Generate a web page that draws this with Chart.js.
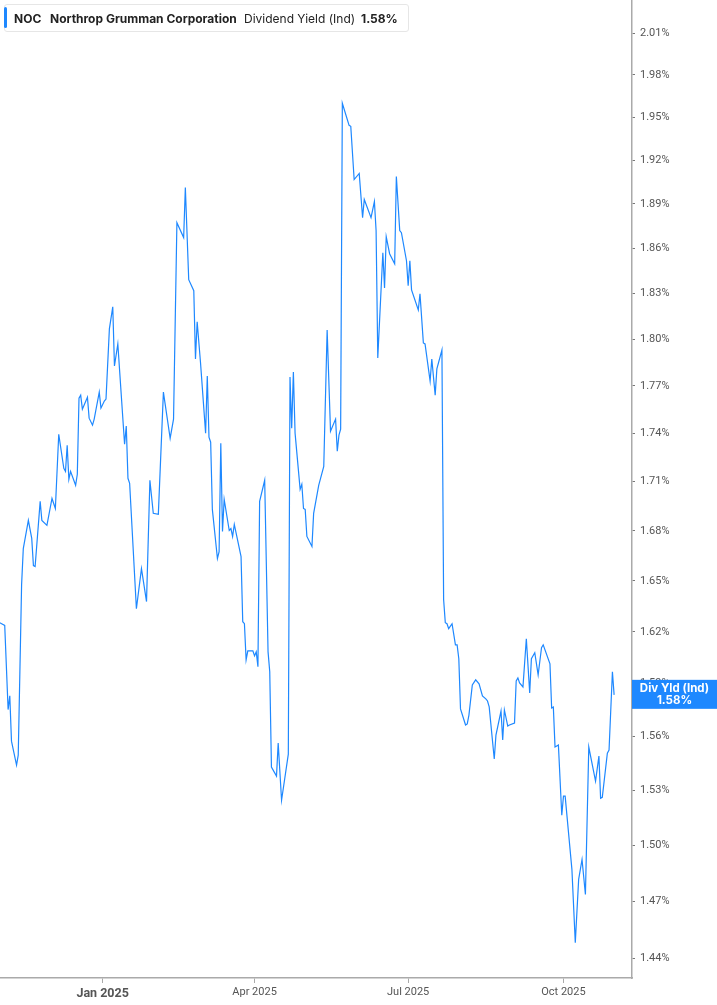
<!DOCTYPE html>
<html>
<head>
<meta charset="utf-8">
<script src="https://cdn.jsdelivr.net/npm/chart.js@4/dist/chart.umd.min.js"></script>
<style>
body { margin:0; background:#fff; }
#wrap { position:relative; width:717px; height:1005px; }
#header {
  position:absolute; left:4px; top:4px; width:403px; height:26px;
  border:1px solid #e6e6e6; border-radius:3px; background:#fff;
  font-family:Inter, "Noto Sans", sans-serif; font-size:12px; color:#222;
}
#header .bar { position:absolute; left:-1px; top:2px; width:3px; height:21px; background:#1e88ff; border-radius:2px; }
#header span { position:absolute; top:6px; white-space:nowrap; }
</style>
</head>
<body>
<div id="wrap">
<canvas id="yieldChart"></canvas>
<div id="header">
  <div class="bar"></div>
  <span style="left:9px;font-weight:700">NOC</span>
  <span style="left:45px;font-weight:700">Northrop Grumman Corporation</span>
  <span style="left:239px">Dividend Yield (Ind)</span>
  <span style="left:356px;font-weight:700">1.58%</span>
</div>
</div>
<script>
// DATA (days counted from 1 Jan 2025, yield in %)
let dayOffsets = [
-61,-58,-56,-55,-54,-51,-50,-48,-47,-44,-42,-41,-40,-37,-36,-33,-30,-28,-26,-23,
-22,-21,-20,-19,-16,-15,-14,-13,-12,-9,-8,-6,-5,-2,-1,1,2,4,6,7,
9,13,14,15,16,20,23,26,28,30,33,36,40,42,44,48,49,51,54,55,
56,58,61,62,63,64,65,68,69,70,71,72,75,76,77,78,82,83,84,85,
86,89,90,91,92,93,96,98,99,100,103,104,106,110,111,112,113,114,117,118,
119,120,121,124,125,128,131,133,135,138,139,140,141,142,146,147,149,152,154,155,
159,161,162,163,166,167,168,170,173,174,176,177,180,181,182,183,187,188,190,191,
194,195,197,198,201,202,203,204,205,207,209,210,211,212,215,216,217,219,221,223,
225,227,228,229,232,233,236,237,238,240,241,244,245,246,247,249,251,253,254,256,
258,260,261,265,266,267,268,270,272,273,274,278,280,282,284,286,288,292,294,295,
296,299,300,302,303
];

let yieldValues = [
1.6253,1.6237,1.5752,1.5830,1.5574,1.5440,1.5496,1.6478,1.6693,1.6863,1.6754,1.6591,1.6585,1.6979,1.6863,1.6833,1.6997,1.6936,1.7395,1.7183,
1.7164,1.7326,1.7115,1.7164,1.7078,1.7146,1.7623,1.7642,1.7553,1.7629,1.7496,1.7452,1.7490,1.7661,1.7559,1.7604,1.7617,1.8068,1.8212,1.7828,
1.7970,1.7332,1.7446,1.7121,1.7090,1.6335,1.6573,1.6377,1.7109,1.6906,1.6900,1.7661,1.7370,1.7490,1.8773,1.8672,1.9012,1.8391,1.8318,1.7873,
1.8114,1.7847,1.7402,1.7764,1.7376,1.7345,1.6930,1.6633,1.6675,1.7339,1.6796,1.6991,1.6802,1.6814,1.6766,1.6839,1.6645,1.6259,1.6247,1.6037,
1.6089,1.6089,1.6060,1.6083,1.5997,1.6979,1.7109,1.6083,1.5968,1.5429,1.5379,1.5563,1.5246,1.5501,1.7757,1.7433,1.7789,1.7402,1.7053,1.7084,
1.6936,1.6930,1.6766,1.6705,1.6906,1.7078,1.7195,1.8061,1.7414,1.7490,1.7289,1.7389,1.7427,1.9598,1.9443,1.9436,1.9067,1.9109,1.8807,1.8930,
1.8807,1.8916,1.8719,1.7880,1.8571,1.8337,1.8678,1.8564,1.8497,1.9088,1.8719,1.8705,1.8517,1.8351,1.8517,1.8324,1.8192,1.8298,1.7977,1.7970,
1.7732,1.7873,1.7642,1.7809,1.7931,1.6389,1.6253,1.6247,1.6218,1.6247,1.6124,1.6124,1.6043,1.5756,1.5665,1.5671,1.5721,1.5893,1.5922,1.5899,
1.5830,1.5813,1.5801,1.5767,1.5474,1.5608,1.5744,1.5580,1.5750,1.5659,1.5665,1.5676,1.5916,1.5933,1.5904,1.5881,1.6159,1.5847,1.6043,1.6078,
1.5950,1.6107,1.6124,1.6014,1.5761,1.5767,1.5541,1.5552,1.5164,1.5268,1.5268,1.4871,1.4483,1.4817,1.4924,1.4737,1.5541,1.5351,1.5490,1.5257,
1.5262,1.5507,1.5524,1.5968,1.5836
];

// AXES
let yTickValues = [1.44,1.47,1.50,1.53,1.56,1.59,1.62,1.65,1.68,1.71,1.74,1.77,1.80,1.83,1.86,1.89,1.92,1.95,1.98,2.01];
let xTickDays = [0, 90, 181, 273];
let xTickLabels = ["Jan 2025", "Apr 2025", "Jul 2025", "Oct 2025"];

let lineColor = "#1e88ff";

let points = dayOffsets.map((d, i) => ({ x: d, y: yieldValues[i] }));

// LAST VALUE BOX
const lastValueBox = {
  id: "lastValueBox",
  afterDraw(chart) {
    let ctx = chart.ctx;
    let last = yieldValues[yieldValues.length - 1];
    let y = chart.scales.y.getPixelForValue(last);
    let left = chart.chartArea.right;
    ctx.save();
    ctx.fillStyle = lineColor;
    ctx.fillRect(left, y - 15, chart.width - left, 29);
    ctx.fillStyle = "#fff";
    ctx.font = "bold 11.5px Inter, 'Noto Sans', sans-serif";
    ctx.textAlign = "center";
    ctx.textBaseline = "middle";
    let cx = left + (chart.width - left) / 2;
    ctx.fillText("Div Yld (Ind)", cx, y - 6);
    ctx.fillText(last.toFixed(2) + "%", cx, y + 6);
    ctx.restore();
  }
};

new Chart(document.getElementById("yieldChart"), {
  type: "line",
  data: {
    datasets: [{
      data: points,
      borderColor: lineColor,
      borderWidth: 1.2,
      pointRadius: 0,
      tension: 0,
      fill: false
    }]
  },
  options: {
    responsive: true,
    maintainAspectRatio: false,
    animation: false,
    layout: { padding: 0 },
    plugins: {
      legend: { display: false },
      tooltip: { enabled: false }
    },
    scales: {
      x: {
        type: "linear",
        min: -60.8,
        max: 313.6,
        afterBuildTicks: s => { s.ticks = xTickDays.map(v => ({ value: v })); },
        afterFit: s => { s.height = 27; s.paddingLeft = 0; s.paddingRight = 0; },
        grid: { drawOnChartArea: false, drawTicks: true, tickLength: 5, color: "#aaa" },
        border: { display: true, color: "#aaa", width: 1.5 },
        ticks: {
          autoSkip: false,
          maxRotation: 0,
          padding: 3,
          color: "#555",
          font: ctx => ctx.tick && ctx.tick.value === 0
            ? { family: "Roboto, 'Liberation Sans', sans-serif", size: 12.5, weight: "bold" }
            : { family: "Roboto, 'Liberation Sans', sans-serif", size: 11 },
          callback: v => xTickLabels[xTickDays.indexOf(v)]
        }
      },
      y: {
        type: "logarithmic",
        position: "right",
        min: 1.4301,
        max: 2.0341,
        afterBuildTicks: s => { s.ticks = yTickValues.map(v => ({ value: v })); },
        afterFit: s => { s.width = 85; s.paddingTop = 0; s.paddingBottom = 0; },
        grid: { drawOnChartArea: false, drawTicks: true, tickLength: 3, color: "#777" },
        border: { display: true, color: "#aaa", width: 1.5 },
        ticks: {
          padding: 5,
          color: "#555",
          font: { family: "Roboto, 'Liberation Sans', sans-serif", size: 11 },
          callback: v => Number(v).toFixed(2) + "%"
        }
      }
    }
  },
  plugins: [lastValueBox]
});
</script>
</body>
</html>
